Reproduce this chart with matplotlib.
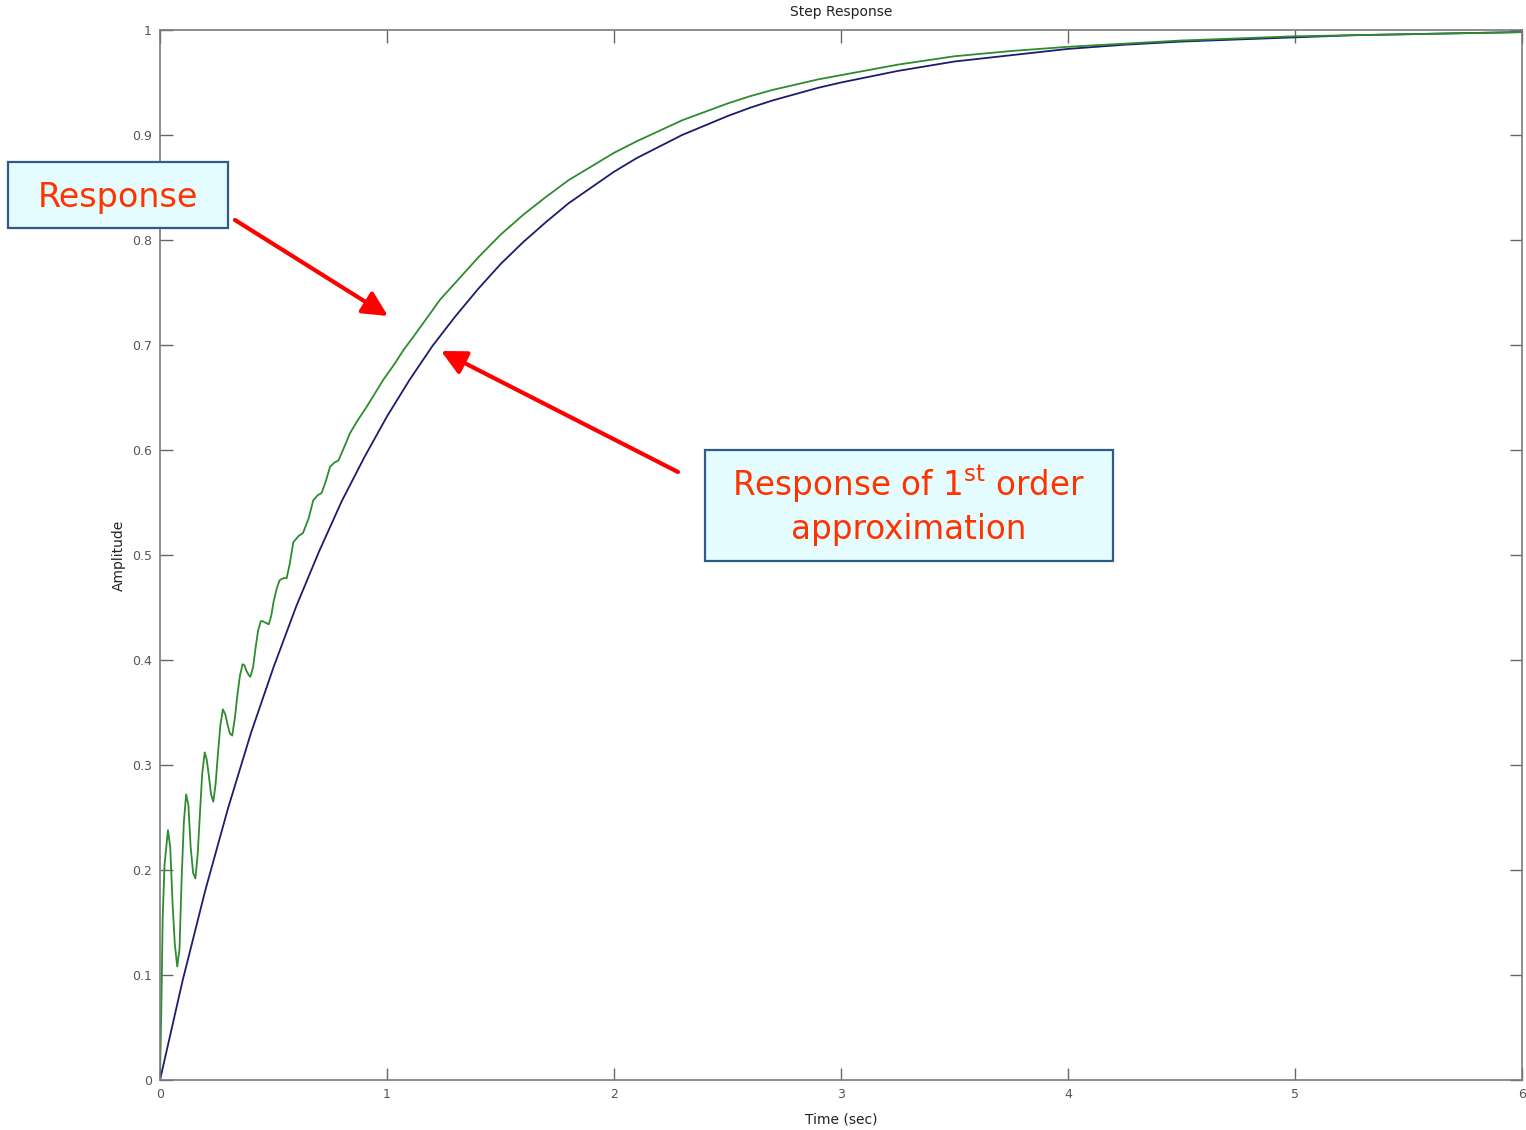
import matplotlib
matplotlib.use("Agg")
import matplotlib.pyplot as plt
from matplotlib.patches import Rectangle, FancyArrowPatch

# ---- data ----
t_resp = [0.0, 0.006, 0.012, 0.02, 0.035, 0.045, 0.055, 0.065, 0.076, 0.086,
          0.095, 0.105, 0.115, 0.125, 0.135, 0.146, 0.156, 0.166, 0.175, 0.186,
          0.197, 0.206, 0.215, 0.225, 0.235, 0.245, 0.255, 0.266, 0.277, 0.288,
          0.298, 0.308, 0.318, 0.33, 0.34, 0.352, 0.364, 0.372, 0.38, 0.39,
          0.398, 0.41, 0.42, 0.432, 0.444, 0.452, 0.46, 0.47, 0.479, 0.49,
          0.5, 0.514, 0.527, 0.545, 0.558, 0.572, 0.587, 0.61, 0.63, 0.655,
          0.675, 0.695, 0.712, 0.73, 0.749, 0.768, 0.786, 0.81, 0.837, 0.87,
          0.91, 0.95, 0.984, 1.03, 1.072, 1.12, 1.16, 1.2, 1.233, 1.3,
          1.4, 1.5, 1.6, 1.7, 1.8, 1.9, 2.0, 2.1, 2.2, 2.3,
          2.4, 2.5, 2.6, 2.7, 2.8, 2.9, 3.0, 3.25, 3.5, 3.75,
          4.0, 4.25, 4.5, 4.75, 5.0, 5.25, 5.5, 5.75, 6.0]
y_resp = [0.0, 0.07, 0.156, 0.205, 0.238, 0.222, 0.17, 0.13, 0.108, 0.125,
          0.19, 0.245, 0.272, 0.262, 0.222, 0.197, 0.192, 0.215, 0.25, 0.292,
          0.312, 0.305, 0.29, 0.272, 0.265, 0.282, 0.31, 0.338, 0.353, 0.348,
          0.338, 0.330, 0.328, 0.345, 0.365, 0.385, 0.396, 0.395, 0.39, 0.386,
          0.384, 0.393, 0.41, 0.428, 0.437, 0.437, 0.436, 0.435, 0.434, 0.442,
          0.455, 0.468, 0.476, 0.478, 0.478, 0.492, 0.512, 0.518, 0.521, 0.535,
          0.552, 0.557, 0.559, 0.570, 0.584, 0.588, 0.590, 0.602, 0.616, 0.628,
          0.641, 0.655, 0.667, 0.681, 0.695, 0.709, 0.721, 0.733, 0.743, 0.759,
          0.783, 0.805, 0.824, 0.841, 0.857, 0.870, 0.883, 0.894, 0.904, 0.914,
          0.922, 0.930, 0.937, 0.943, 0.948, 0.953, 0.957, 0.967, 0.975, 0.980,
          0.984, 0.987, 0.990, 0.992, 0.994, 0.995, 0.996, 0.997, 0.998]

t_approx = [0.0, 0.1, 0.2, 0.3, 0.4, 0.5, 0.6, 0.7, 0.8, 0.9, 1.0,
            1.1, 1.2, 1.3, 1.4, 1.5, 1.6, 1.7, 1.8, 1.9, 2.0,
            2.1, 2.2, 2.3, 2.4, 2.5, 2.6, 2.7, 2.8, 2.9, 3.0,
            3.25, 3.5, 3.75, 4.0, 4.25, 4.5, 4.75, 5.0, 5.25, 5.5, 5.75, 6.0]
y_approx = [0.0, 0.095, 0.181, 0.259, 0.330, 0.393, 0.451, 0.503, 0.551, 0.593, 0.632,
            0.667, 0.699, 0.727, 0.753, 0.777, 0.798, 0.817, 0.835, 0.850, 0.865,
            0.878, 0.889, 0.900, 0.909, 0.918, 0.926, 0.933, 0.939, 0.945, 0.950,
            0.961, 0.970, 0.976, 0.982, 0.986, 0.989, 0.991, 0.993, 0.995, 0.996, 0.997, 0.998]

x_ticks = [0, 1, 2, 3, 4, 5, 6]
y_ticks = [0, 0.1, 0.2, 0.3, 0.4, 0.5, 0.6, 0.7, 0.8, 0.9, 1]
y_tick_labels = ["0", "0.1", "0.2", "0.3", "0.4", "0.5", "0.6", "0.7", "0.8", "0.9", "1"]

# ---- figure ----
W, H = 1526, 1130
fig = plt.figure(figsize=(W / 100, H / 100), dpi=100)
ax = fig.add_axes([160 / W, 50 / H, 1362 / W, 1050 / H])

ax.plot(t_approx, y_approx, color="#1c1c6e", lw=1.3)
ax.plot(t_resp, y_resp, color="#2e8b2e", lw=1.3)

ax.set_xlim(0, 6)
ax.set_ylim(0, 1)
ax.set_xticks(x_ticks)
ax.set_xticklabels([str(v) for v in x_ticks])
ax.set_yticks(y_ticks)
ax.set_yticklabels(y_tick_labels)
gray = "#555555"
ax.tick_params(direction="in", length=9, width=1, color="#666666",
               labelcolor=gray, labelsize=9, top=True, right=True, pad=6)
for s in ax.spines.values():
    s.set_color("#7a7a7a")
    s.set_linewidth(1.2)

ax.set_title("Step Response", fontsize=10, color="#222222", pad=10)
ax.set_xlabel("Time (sec)", fontsize=10, color="#222222", labelpad=8)
ax.set_ylabel("Amplitude", fontsize=10, color="#222222", labelpad=4)


def fx(px):
    return px / W


def fy(py):
    return 1 - py / H


box_face = "#e4fcfd"
box_edge = "#2f5b8a"
txt_col = "#ff3300"

# box 1
fig.patches.append(Rectangle((fx(8), fy(228)), 220 / W, 66 / H, transform=fig.transFigure,
                             facecolor=box_face, edgecolor=box_edge, lw=1.6, zorder=5))
fig.text(fx(118), fy(197), "Response", color=txt_col, fontsize=24,
         ha="center", va="center", zorder=6)

# box 2
fig.patches.append(Rectangle((fx(705), fy(561)), 408 / W, 111 / H, transform=fig.transFigure,
                             facecolor=box_face, edgecolor=box_edge, lw=1.6, zorder=5))
fig.text(fx(909), fy(484), r"Response of 1$^{\mathregular{st}}$ order", color=txt_col,
         fontsize=23.5, ha="center", va="center", zorder=6)
fig.text(fx(909), fy(529), "approximation", color=txt_col, fontsize=23.5,
         ha="center", va="center", zorder=6)

# arrows
for (x0, y0, x1, y1) in [(235, 220, 388, 316), (678, 472, 441, 351)]:
    arr = FancyArrowPatch((fx(x0), fy(y0)), (fx(x1), fy(y1)), transform=fig.transFigure,
                          arrowstyle="-|>,head_length=10,head_width=5",
                          mutation_scale=1.5, color="#ff0000", lw=3, zorder=7,
                          shrinkA=0, shrinkB=0)
    fig.patches.append(arr)

fig.savefig("out.png", dpi=100)
